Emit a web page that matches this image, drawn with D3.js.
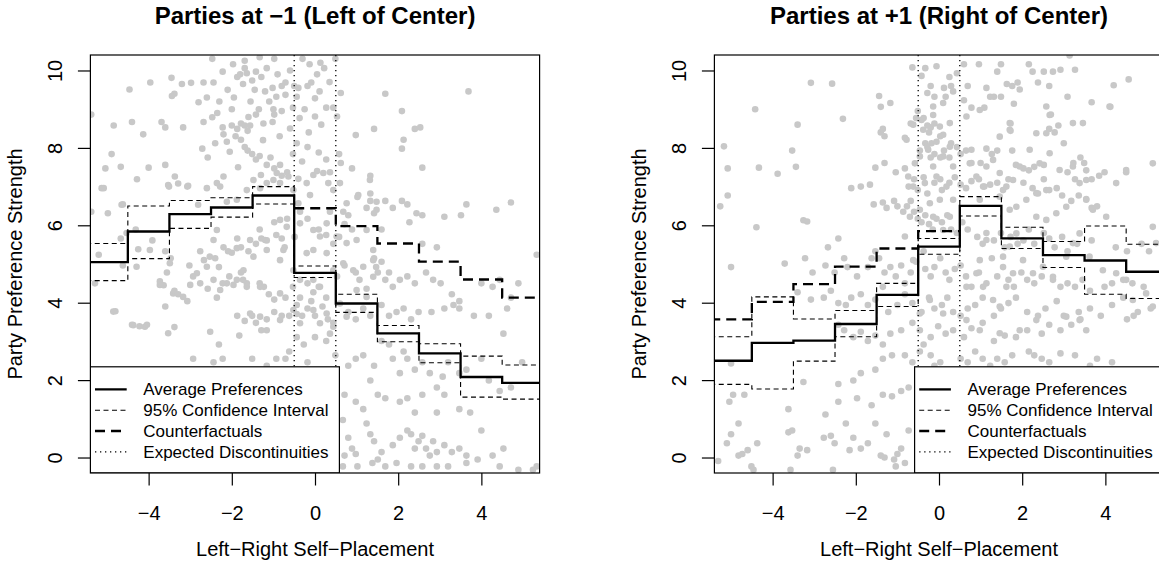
<!DOCTYPE html>
<html>
<head>
<meta charset="utf-8">
<script src="https://cdn.jsdelivr.net/npm/d3@7"></script>
<style>
  html, body { margin: 0; padding: 0; background: #ffffff; }
  svg { display: block; }
  text { font-family: "Liberation Sans", Arial, Helvetica, sans-serif; fill: #000; }
</style>
</head>
<body>
<svg id="chart" width="1159" height="563"></svg>
<script>
// ---------------- DATA ----------------
const bins = [-5, -4, -3, -2, -1, 0, 1, 2, 3, 4, 5];
const xTicks = [-4, -2, 0, 2, 4];
const yTicks = [0, 2, 4, 6, 8, 10];
const panelTitles = ["Parties at \u22121 (Left of Center)", "Parties at +1 (Right of Center)"];
const xAxisTitle = "Left\u2212Right Self\u2212Placement";
const yAxisTitle = "Party Preference Strength";
const legendLabels = ["Average Preferences", "95% Confidence Interval", "Counterfactuals", "Expected Discontinuities"];
const discontinuities = [-0.5, 0.5];

// Left panel (parties at -1)
const leftAvg     = [5.05, 5.84, 6.29, 6.46, 6.77, 4.77, 3.98, 3.21, 2.69, 2.08, 1.93];
const leftUpper   = [5.53, 6.50, 6.64, 6.71, 7.00, 4.95, 4.22, 3.41, 2.94, 2.62, 2.39];
const leftLower   = [4.57, 5.14, 5.92, 6.21, 6.55, 4.65, 3.75, 2.99, 2.45, 1.56, 1.51];
const leftCounterBins = [0, 1, 2, 3, 4, 5];
const leftCounter = [6.44, 5.98, 5.53, 5.06, 4.60, 4.13];

// Right panel (parties at +1)
const rightAvg     = [2.50, 2.96, 3.02, 3.45, 4.20, 5.45, 6.50, 5.66, 5.23, 5.09, 4.80];
const rightUpper   = [3.12, 4.15, 3.58, 3.80, 4.50, 5.66, 6.74, 5.95, 5.58, 5.98, 5.51];
const rightLower   = [1.89, 1.77, 2.49, 3.12, 3.90, 5.25, 6.24, 5.40, 4.91, 4.22, 4.11];
const rightCounterBins = [-5, -4, -3, -2, -1, 0];
const rightCounter = [3.57, 4.02, 4.48, 4.93, 5.40, 5.85];

// Respondent scatter (jittered self-placement, preference strength)
const leftPoints = [
[-2.47,10.30],[-1.97,10.16],[-1.69,10.25],[-1.33,10.34],[-0.98,10.30],[-1.69,10.06],[-1.64,9.93],[-1.42,9.97],[-1.29,9.83],[-1.16,10.06],
[-1.87,9.83],[-1.73,9.65],[-1.51,9.74],[-1.2,9.46],[-1.02,9.55],[-0.8,9.6],[-0.71,9.37],[-0.93,9.32],[-0.44,9.32],[-0.4,9.55],
[-0.13,10.16],[0.13,10.2],[0.22,10.06],[-0.18,9.6],[-0.09,9.69],[0,9.28],[0.11,9.46],[0.49,10.3],[0.62,9.42],[-0.71,9.69],
[-3.96,9.69],[-4.46,9.51],[-3.45,9.81],[-3.38,9.4],[-3.44,9.34],[-3.2,9.65],[-2.98,9.68],[-2.8,9.18],[-2.68,9.69],[-2.44,9.69],
[-2.22,9.97],[3.69,9.46],[1.69,9.4],[0.44,9.04],[-5.38,8.86],
[-2.3,9.2],[-2.1,9.5],[-1.95,9.3],[-1.8,9.9],[-1.55,9.2],[-1.45,9.5],[-1.1,9.2],[-0.9,9.9],[-0.6,10.0],[-0.3,10.3],
[-0.25,9.0],[-0.6,8.5],[-0.85,8.3],[-1.25,8.2],[-1.6,8.8],[-2.0,9.0],[-2.35,8.9],[-2.6,9.3],[-1.35,9.0],[-0.15,8.4],
[0.15,8.6],[0.35,9.7],[0.05,9.9],[-0.5,9.6],[-1.0,9.0],[-1.85,7.5],[-2.05,7.9],[-1.3,7.3],[-0.4,7.2],[0.05,7.4],
[-4.84,8.58],[-4.4,8.67],[-4.13,8.35],[-3.69,8.67],[-3.6,8.53],[-3.17,8.53],[-2.68,8.67],[-2.47,8.79],[-2.22,8.53],[-2.2,8.35],
[-2.0,8.58],[-1.87,8.49],[-1.78,8.63],[-1.69,8.58],[-1.62,8.44],[-1.56,8.58],[-1.42,8.86],[-1.24,8.63],[-1.02,8.67],[-0.98,8.86],
[-0.8,8.95],[-0.53,9.04],[-0.37,8.77],[0,8.81],[0.27,9.04],[0.53,8.81],[0.98,8.33],[1.42,8.49],[2.09,8.95],[2.13,8.21],
[2.4,8.49],[2.53,8.53],[2.09,7.98],[-4.89,7.84],[-5.04,7.47],[-4.67,7.51],[-4.28,7.19],[-4.0,7.49],[-3.6,7.56],[-3.51,7.0],
[-3.29,7.08],[-3.07,7.0],[-2.71,7.98],[-2.58,7.75],[-2.4,8.12],[-2.12,8.16],[-1.91,8.3],[-1.78,8.21],[-1.69,8.02],[-1.62,7.93],
[-1.51,7.84],[-1.42,7.7],[-1.33,7.79],[-1.16,7.56],[-1.07,7.75],[-0.98,7.47],[-0.84,7.56],[-0.8,7.28],[-0.67,7.37],[-0.53,7.84],
[-0.44,8.12],[-0.31,7.65],[-0.18,8.02],[0.09,7.88],[0.27,7.7],[0.36,7.37],[0.58,7.84],[0.62,7.61],[0.89,7.47],[1.02,6.73],
[1.33,6.82],[1.33,7.28],[2.58,7.49],
[-5.13,6.96],[-4.65,6.53],[-3.53,7.04],[-3.37,7.26],[-3.05,7.02],[-2.81,6.53],[-2.6,6.96],[-2.36,7.09],[-2.28,7.0],[-2.2,7.26],
[-2.12,6.61],[-1.88,6.66],[-1.64,6.91],[-1.48,7.17],[-1.32,6.96],[-1.16,7.09],[-1.0,7.17],[-0.92,7.35],[-0.84,7.09],[-0.64,7.26],
[-0.52,6.91],[-0.4,6.57],[-0.2,7.09],[-0.12,6.78],[-0.04,7.3],[0.2,7.35],[0.32,7.09],[0.44,6.91],[0.6,7.09],[0.68,6.35],
[0.76,6.57],[1.04,6.78],[1.32,7.17],[1.48,6.61],[1.48,6.4],[-0.84,6.14],[-0.68,5.96],[-0.36,6.05],[-0.04,5.88],[0.12,5.71],
[0.28,6.05],[0.52,5.71],[0.76,5.54],[1.0,5.62],[1.24,5.88],[1.4,5.36],[-2.36,5.88],[-2.44,5.62],[-1.88,5.41],[-1.56,5.62],
[-1.2,5.62],[-1.16,5.36],[-1.48,5.19],[-1.72,4.84],[-1.88,4.59],[-2.12,4.5],[-2.44,4.59],[-2.84,4.76],[-3.0,4.46],[-3.17,4.15],
[-2.6,4.93],[-3.49,5.02],[-3.73,4.46],[-3.97,5.36],[-4.29,4.93],[-4.85,3.77],[-4.37,3.42],[-4.09,3.38],[-3.53,3.21],[-3.41,4.24],
[-2.52,3.25],[-2.28,4.33],[-1.96,4.46],[-1.64,4.5],[-1.56,3.72],[-1.32,3.64],[-1.16,3.29],[-0.84,3.55],[-0.52,3.81],[-0.36,3.47],
[-0.04,3.81],[0.12,3.47],[0.28,3.72],[0.44,3.38],[0.6,3.98],[0.76,3.64],[1.0,4.33],[1.24,4.15],[1.4,4.67],[-0.04,4.59],
[0.12,4.41],[-0.36,4.59],[-0.52,4.84],[-0.84,5.1],[-0.76,5.36],[-0.2,5.28],[-0.04,5.36],[0.28,5.28],[0.44,4.84],[0.68,5.02],
[0.92,4.84],[1.16,4.93],[1.4,5.1],[-1.32,4.41],[-0.84,4.24],
[-5.38,6.35],[-5.08,6.96],[-4.98,6.31],[-5.2,5.24],[-5.29,4.5],[-4.67,5.66],[-4.62,4.96],[-4.62,6.54],[-4.53,5.8],[-4.31,5.89],
[-4.25,5.38],[-3.91,5.61],[-3.6,5.33],[-3.47,5.15],[-3.56,4.78],[-3.73,4.55],[-3.64,4.45],[-3.6,3.9],[-3.38,4.31],[-3.02,4.96],
[-2.93,4.68],[-2.76,5.33],[-2.67,5.1],[-2.53,5.19],[-2.4,5.15],[-2.31,4.92],[-2.2,5.43],[-2.09,5.33],[-2.0,5.29],[-1.87,5.66],
[-1.78,5.43],[-1.6,5.33],[-1.42,5.52],[-1.33,5.89],[-1.29,5.66],[-1.16,5.61],[-0.98,6.08],[-0.93,5.75],[-0.8,5.66],[-0.73,5.43],
[-0.67,6.17],[-0.36,6.35],[-0.49,5.7],[-0.18,6.17],[0.09,5.89],[0.27,5.75],[0.36,6.35],[0.44,5.52],[0.58,5.7],[0.71,6.03],
[0.8,6.26],[0.89,5.89],[1.24,6.45],[1.33,6.63],[1.42,6.31],[1.6,5.89],[1.69,6.63],[1.87,6.45],[2.09,6.63],[2.22,6.54],
[2.27,6.08],[2.44,6.31],[2.58,6.26],[2.58,5.52],[2.93,5.43],[3.11,6.22],[3.51,6.26],[3.64,6.54],[4.36,6.4],[4.71,6.59],
[5.33,5.24],[-3.29,4.22],[-3.07,4.04],[-2.76,4.5],[-2.58,4.36],[-2.36,4.13],[-2.22,4.5],[-2.06,4.68],[-1.78,4.78],[-1.73,4.59],
[-1.64,4.41],[-1.33,4.5],[-1.23,4.41],[-1.11,4.22],[-0.98,4.08],[-0.71,4.13],[-0.53,4.41],[-0.44,3.94],[-0.36,4.13],[-0.18,4.5],
[-0.09,4.04],[-0.04,4.27],[0.09,4.41],[0.27,4.13],[0.53,4.68],[0.71,4.96],[0.98,4.78],[1.07,4.59],[1.24,4.36],[1.42,5.15],
[1.47,4.92],[1.51,4.78],[1.6,5.06],[1.69,4.59],[1.78,4.78],[1.87,4.41],[2.04,4.59],[2.22,4.68],[2.4,4.5],[2.67,4.78],
[2.84,4.59],[3.02,4.5],[3.29,4.22],[3.47,4.04],[4.0,4.5],[4.27,4.41],[4.44,4.59],[4.71,4.13],[4.89,4.5],
[-4.8,3.78],[-4.4,3.43],[-4.22,3.39],[-4.04,3.43],[-3.38,3.37],[-2.31,2.92],[-1.87,3.66],[-1.69,3.53],[-1.51,3.66],[-1.42,3.48],
[-1.29,3.29],[-1.16,3.57],[-0.98,3.76],[-0.8,3.66],[-0.62,3.66],[-0.44,3.71],[-0.31,3.66],[-0.18,3.85],[0,3.66],[0.18,3.9],
[0.31,3.57],[0.44,3.48],[0.8,3.76],[0.98,3.57],[1.16,3.85],[1.33,3.66],[1.6,3.94],[1.78,3.66],[1.96,3.76],[2.13,3.85],
[2.31,3.57],[2.49,3.76],[2.8,3.76],[3.11,3.85],[3.33,3.94],[3.47,3.85],[3.82,3.66],[4.18,3.66],[4.62,3.85],[4.53,3.2],
[-2.93,2.55],[-2.44,2.46],[-2.22,2.55],[-1.82,3.15],[-1.51,2.55],[-1.16,2.37],[-0.93,2.55],[-0.71,2.55],[-0.62,2.74],[-0.44,3.11],
[-0.27,2.92],[-0.18,2.46],[0,3.11],[0.27,3.01],[0.36,3.2],[0.49,2.64],[0.8,2.37],[0.98,2.55],[1.16,2.64],[1.33,1.99],
[1.42,2.37],[1.6,3.01],[1.78,2.92],[1.87,2.55],[2.04,2.18],[2.13,2.74],[2.22,2.55],[2.4,2.27],[2.58,2.46],[2.76,2.18],
[2.93,1.81],[3.07,2.09],[3.2,2.46],[3.47,2.18],[3.64,2.27],[4.0,2.55],[4.18,1.99],[4.44,1.72],[4.71,1.81],[4.98,2.46],
[0.71,1.62],[0.98,1.44],[1.16,1.25],[1.51,1.62],[1.69,1.53],[2.04,1.44],[2.22,1.53],[2.4,1.16],[2.58,1.62],[2.93,1.16],
[3.11,1.62],[3.47,1.25],[3.73,1.16],[4.0,0.7],
[0.67,0.97],[0.8,0.51],[0.89,0.23],[0.98,0.09],[1.24,0.88],[1.33,0.6],[1.42,0.42],[1.51,-0.05],[1.69,-0.23],[1.87,0.32],
[1.96,-0.14],[2.04,0.51],[2.22,0.7],[2.31,0.6],[2.4,0.23],[2.49,0.42],[2.58,0.56],[2.67,0.23],[2.76,0.05],[2.84,0.42],
[2.93,0.14],[3.11,0.32],[3.29,0.14],[3.47,0.23],[3.64,0.05],[3.91,-0.05],[4.27,0.05],[4.44,-0.23],[4.53,0.23],[4.89,-0.32],
[5.24,-0.32],[5.33,-0.23],[2.31,-0.23],[2.58,-0.23],[2.93,-0.23],[3.2,-0.23],[3.64,-0.14],[0.71,0.05],[0.67,-0.23],[1.02,-0.23],
[1.38,-0.14],[1.6,0.14]
];

const rightPoints = [
[-3.08,9.68],[-2.57,9.66],[-1.44,9.34],[-1.4,9.06],[-1.17,9.16],[-0.64,10.08],[-0.42,9.86],[-0.33,10.06],[-0.2,9.6],[-0.06,10.11],
[-0.28,9.42],[-0.11,9.32],[0.12,9.55],[0.25,9.83],[0.29,9.6],[0.34,9.46],[0.16,9.32],[0.43,9.93],[0.6,10.16],[0.69,9.6],
[0.6,9.23],[0.78,9.04],[0.96,10.16],[1.14,9.55],[1.32,9.32],[1.4,9.97],[1.49,10.16],[1.63,9.65],[1.76,9.6],[1.94,9.51],
[1.89,9.69],[2.16,10.16],[2.25,9.97],[2.38,9.69],[2.52,9.97],[2.65,9.6],[2.74,9.97],[2.92,10.02],[3.09,9.32],[3.27,10.02],
[3.14,10.39],[3.67,9.18],[4.12,9.06],[4.2,9.62],[4.56,9.77],[1.8,9.14],[1.49,9.32],[1.23,9.32],[1.09,9.04],
[-0.62,8.6],[-0.42,8.72],[-0.38,8.47],[-0.14,8.85],[0.02,8.55],[0.1,8.34],[0.26,8.64],[-0.18,8.12],[-0.26,7.95],[-0.46,7.78],
[-0.58,7.6],[-0.74,7.26],[-0.62,7.0],[-0.34,7.09],[-0.14,7.52],[-0.06,7.26],[0.1,7.78],[0.26,8.03],[0.34,7.52],[0.18,7.0],
[0.02,6.66],[-0.22,6.57],[-0.46,6.4],[-0.7,6.22],[-0.82,5.71],[-0.62,5.1],[-0.14,6.22],[0.26,6.22],[0.1,5.88],[0.34,6.66],
[0.66,8.81],[0.78,7.95],[0.74,7.6],[0.9,7.26],[1.06,7.0],[0.98,6.66],[1.14,7.52],[1.3,7.69],[1.46,7.35],[1.62,7.0],
[1.78,7.17],[1.46,6.74],[1.7,6.4],[1.86,6.48],[2.1,6.66],[2.34,6.83],[2.58,6.91],[1.94,7.52],[2.18,7.95],[2.42,7.6],
[2.66,7.86],[2.9,7.43],[3.22,7.52],[3.38,7.09],[3.54,7.17],[3.54,6.66],[3.7,6.4],[3.06,6.48],[2.82,6.31],[2.58,6.14],
[2.34,6.22],[1.86,5.79],[1.7,5.45],[1.54,5.19],[1.14,5.62],[0.98,5.1],[0.9,4.76],[0.66,4.41],[1.06,4.41],[1.3,4.07],
[1.46,3.9],[1.62,4.41],[1.78,4.76],[2.02,5.1],[2.26,4.76],[2.5,4.93],[2.74,4.67],[3.06,5.19],[3.22,5.54],[3.38,5.79],
[3.62,5.19],[3.94,4.84],[4.26,4.76],[4.5,4.59],[4.66,4.07],[4.98,4.24],[5.14,3.9],[5.22,5.54],[5.14,5.96],[4.02,6.22],
[4.26,7.09],[4.5,7.43],[5.14,7.6],[-0.14,9.07],[0.1,9.16],[0.98,8.98],[1.7,8.64],[2.58,9.07],[3.22,8.64],[3.46,8.64],
[4.1,9.07],[1.46,8.29],[1.7,8.47],[2.34,8.38],[2.58,8.38],[2.66,8.85],[-0.78,8.21],[-0.46,3.72],[-0.22,4.07],[0.1,3.72],
[0.66,3.55],[0.98,3.29],[1.46,3.21],[1.94,3.29],[2.34,3.55],[3.06,3.64],[3.38,3.55],[3.54,3.29],
[-4.42,9.0],[-3.4,8.6],[-2.31,8.75],[-5.17,8.04],[-5.08,7.47],[-4.33,7.49],[-3.88,7.33],[-3.44,7.51],[-3.53,7.93],[-1.53,7.49],
[-1.31,7.61],[-1.4,8.4],[-1.35,8.49],[-1.31,8.3],[-0.82,8.26],[-0.68,8.63],[-0.55,8.77],[-0.51,8.95],[-0.37,8.77],[-0.28,8.58],
[-0.2,8.53],[-0.11,8.63],[-0.24,8.4],[-0.06,8.16],[0.03,8.3],[-0.33,8.12],[-0.28,8.02],[-0.46,7.93],[-0.2,7.75],[-0.11,7.84],
[0.03,7.75],[0.12,7.93],[0.25,7.75],[0.29,8.12],[0.43,8.02],[0.52,7.84],[0.65,7.93],[0.78,7.61],[1.0,7.61],[1.14,7.98],
[1.27,7.84],[1.4,7.93],[1.72,8.63],[1.72,8.44],[1.76,7.93],[1.85,7.56],[2.03,7.47],[2.16,7.42],[2.29,7.51],[2.52,7.56],
[2.69,8.86],[2.65,8.49],[2.78,8.4],[2.87,8.58],[3.0,8.12],[3.09,7.37],[3.23,7.61],[3.27,7.19],[3.4,7.75],[3.49,7.61],
[3.54,7.42],[3.67,7.19],[3.85,7.28],[3.98,7.37],[4.5,7.37],
[-1.04,7.37],[-0.82,7.47],[-0.73,7.0],[-0.6,7.19],[-0.51,6.91],[-0.37,7.24],[-0.28,6.82],[-0.11,7.1],[0.03,7.19],[0.07,6.91],
[0.25,7.1],[0.38,7.24],[0.52,7.05],[0.65,6.96],[0.78,7.14],[0.96,7.19],[1.09,7.0],[1.23,7.05],[1.4,7.1],[1.54,6.91],
[1.67,7.19],[2.03,7.1],[2.25,6.96],[2.38,6.82],[2.52,7.19],[2.65,6.91],[2.83,6.96],[2.96,6.77],[3.18,6.63],[3.36,6.77],
[3.54,6.68],[3.67,6.45],[3.8,6.49],
[-5.26,6.49],[-5.08,6.77],[-4.39,5.95],[-3.26,6.13],[-3.17,6.1],[-2.67,5.43],[-2.42,5.66],[-2.11,6.96],[-1.88,7.0],[-1.66,7.05],
[-1.57,6.54],[-1.35,6.59],[-1.26,6.45],[-1.08,6.63],[-1.0,6.49],[-0.86,6.35],[-0.77,6.49],[-0.68,6.63],[-0.6,6.35],[-0.51,6.17],
[-0.42,6.08],[-0.33,6.26],[-0.24,6.03],[-0.15,5.89],[-0.06,6.17],[0.07,6.08],[0.2,6.26],[0.29,5.89],[0.43,5.8],[0.56,6.08],
[0.69,5.89],[0.92,5.7],[1.05,5.52],[1.14,5.8],[1.32,5.61],[1.49,5.8],[1.58,5.43],[1.72,5.7],[1.89,5.52],[2.03,5.61],
[2.16,5.89],[2.29,5.52],[2.52,5.8],[2.65,5.66],[2.78,5.43],[2.96,5.7],[3.09,5.33],[3.32,5.52],[3.67,5.61],[4.25,5.43],
[4.52,5.33],[4.87,5.52],[5.05,5.33],
[-5.0,4.92],[-3.71,5.01],[-3.22,5.15],[-3.04,4.78],[-2.73,4.96],[-2.51,4.78],[-2.28,5.15],[-2.2,4.92],[-1.97,4.68],[-1.71,4.92],
[-1.62,5.15],[-1.53,5.33],[-1.44,5.15],[-1.31,4.78],[-1.17,4.92],[-1.04,4.68],[-0.91,4.96],[-0.82,4.5],[-0.68,4.78],[-0.55,5.06],
[-0.37,5.33],[-0.33,4.87],[-0.2,4.68],[-0.11,4.92],[0.03,5.15],[0.16,4.78],[0.25,4.59],[0.38,4.87],[0.52,4.96],[0.65,4.68],
[0.78,4.41],[0.96,4.78],[1.14,4.5],[1.27,5.15],[1.4,4.68],[1.54,4.92],[1.67,4.59],[1.8,4.41],[1.98,4.78],[2.12,4.59],
[2.29,4.5],[2.47,4.68],[2.74,4.59],[2.92,4.41],[3.09,4.5],[3.27,4.41],[3.45,4.59],[3.63,4.31],[3.98,4.41],[4.16,4.5],
[4.43,4.59],[4.65,4.5],[4.92,4.41],
[-3.4,4.27],[-3.08,4.08],[-2.77,4.13],[-2.6,4.31],[-2.42,3.99],[-2.24,3.94],[-2.11,4.13],[-1.88,4.22],[-1.71,3.94],[-1.53,4.08],
[-1.35,4.41],[-1.22,3.76],[-1.0,3.94],[-0.82,4.22],[-0.64,3.99],[-0.42,3.76],[-0.24,4.13],[-0.11,3.85],[0.07,3.94],[0.2,4.13],
[0.34,3.76],[0.52,3.66],[0.69,3.85],[0.87,3.94],[1.05,4.13],[1.32,3.66],[1.49,3.85],[1.67,3.99],[1.85,4.13],[2.12,3.76],
[2.38,3.66],[2.56,3.85],[2.83,4.04],[3.0,3.66],[3.36,3.76],[3.63,3.85],[3.89,3.66],[4.16,3.94],[4.43,4.13],[4.78,3.76],
[5.09,3.85],
[-5.0,2.43],[-3.26,1.95],[-3.62,1.25],[-2.73,1.11],[-2.42,1.9],[-2.06,1.99],[-1.88,2.18],[-1.62,1.35],[-1.53,2.27],[-1.35,2.55],
[-1.13,2.64],[-0.82,2.64],[-0.64,2.46],[-0.46,2.74],[-0.37,2.92],[-0.2,2.64],[-0.11,2.37],[0.03,2.46],[0.52,2.55],[0.69,2.46],
[0.87,2.74],[1.05,2.55],[1.23,2.37],[1.4,2.55],[1.58,2.46],[1.76,2.64],[2.16,2.74],[2.29,2.64],[2.47,2.55],[2.65,2.46],
[2.92,2.69],[3.27,2.64],[3.63,2.37],[3.8,2.55],[4.16,2.46],
[-2.42,3.43],[-2.28,3.29],[-2.06,3.11],[-1.88,3.25],[-1.71,3.01],[-1.53,3.15],[-1.35,2.92],[-1.17,3.2],[-0.91,3.29],[-0.64,3.48],
[-0.46,3.29],[-0.2,3.11],[-0.02,3.39],[0.16,3.2],[0.34,3.29],[0.6,3.11],[0.78,3.34],[1.05,3.48],[1.32,3.01],[1.58,3.15],
[1.85,3.11],[2.12,3.29],[2.47,3.2],[2.65,3.43],[2.92,3.29],[3.18,3.43],[3.4,3.57],[4.52,3.57],[4.68,3.66],
[-5.31,-0.09],[-5.1,0.37],[-5.0,0.6],[-5.04,1.44],[-4.95,1.62],[-4.68,1.62],[-4.82,0.88],[-4.82,0.05],[-4.73,0.09],[-4.6,0.19],
[-4.51,-0.23],[-4.46,-0.32],[-4.37,0.37],[-3.62,0.65],[-3.53,0.7],[-3.35,0.23],[-3.17,0.19],[-3.57,-0.32],[-3.4,0.05],
[-2.77,0.51],[-2.6,0.56],[-2.55,-0.32],[-2.51,0.37],[-2.42,1.44],[-2.24,0.88],[-2.15,0.19],[-2.06,0.51],[-1.88,0.23],[-1.71,0.37],
[-1.53,0.88],[-1.4,0.05],[-1.26,0.6],[-1.08,-0.05],[-1.0,0.09],[-0.91,0.23],[-0.82,-0.14],[-0.73,0.7],[-1.04,-0.23],[-1.31,0.0],
[-1.97,1.53],[-1.35,1.62],[-1.13,1.58],[-0.91,1.72],[-0.73,1.81]
];

// ---------------- DRAWING ----------------
const svg = d3.select("#chart");
svg.append("rect").attr("width", 1159).attr("height", 563).attr("fill", "#ffffff");

const panels = [
  { offset: 0,   title: panelTitles[0], avg: leftAvg,  upper: leftUpper,  lower: leftLower,
    cBins: leftCounterBins,  counter: leftCounter,  points: leftPoints,  legendSide: "left" },
  { offset: 624, title: panelTitles[1], avg: rightAvg, upper: rightUpper, lower: rightLower,
    cBins: rightCounterBins, counter: rightCounter, points: rightPoints, legendSide: "right" }
];

const styles = {
  avg:     { width: 2.3, dash: null },
  ci:      { width: 1.1, dash: "5,3.5" },
  counter: { width: 2.3, dash: "10,6" },
  disc:    { width: 1.3, dash: "1.3,3.7" }
};

panels.forEach((p, i) => {
  const L = 90.4 + p.offset, R = 539.6 + p.offset, T = 55, B = 473;
  const x = d3.scaleLinear().domain([-5.4, 5.4]).range([L, R]);
  const y = d3.scaleLinear().domain([-0.4, 10.4]).range([B, T]);
  const g = svg.append("g");

  const clipId = "clip" + i;
  g.append("clipPath").attr("id", clipId)
    .append("rect").attr("x", L).attr("y", T).attr("width", R - L).attr("height", B - T);
  const plot = g.append("g").attr("clip-path", `url(#${clipId})`);

  // scatter
  plot.append("g").selectAll("circle").data(p.points).join("circle")
    .attr("cx", d => x(d[0])).attr("cy", d => y(d[1])).attr("r", 3.3)
    .attr("fill", "#c8c8c8");

  // step lines
  const stepLine = d3.line().x(d => x(d[0])).y(d => y(d[1])).curve(d3.curveStepAfter);
  const stepPts = (bs, vals) => {
    const pts = bs.map((b, k) => [b - 0.5, vals[k]]);
    pts.push([bs[bs.length - 1] + 0.5, vals[vals.length - 1]]);
    return pts;
  };
  const drawStep = (bs, vals, st) => {
    plot.append("path").attr("d", stepLine(stepPts(bs, vals)))
      .attr("fill", "none").attr("stroke", "#000").attr("stroke-width", st.width)
      .attr("stroke-dasharray", st.dash).attr("stroke-linejoin", "miter").attr("stroke-linecap", "butt");
  };
  drawStep(bins, p.upper, styles.ci);
  drawStep(bins, p.lower, styles.ci);
  drawStep(p.cBins, p.counter, styles.counter);
  drawStep(bins, p.avg, styles.avg);

  // expected discontinuities
  plot.selectAll("line.disc").data(discontinuities).join("line").attr("class", "disc")
    .attr("x1", d => x(d)).attr("x2", d => x(d)).attr("y1", T).attr("y2", B)
    .attr("stroke", "#000").attr("stroke-width", styles.disc.width).attr("stroke-dasharray", styles.disc.dash);

  // legend
  const lw = 249, lh = B - 366.8;
  const lx = p.legendSide === "left" ? L : R - lw;
  const ly = 366.8;
  const leg = plot.append("g");
  leg.append("rect").attr("x", lx).attr("y", ly).attr("width", lw).attr("height", lh)
    .attr("fill", "#fff").attr("stroke", "#000").attr("stroke-width", 1.2);
  const legStyles = [styles.avg, styles.ci, styles.counter, styles.disc];
  legendLabels.forEach((lab, k) => {
    const ry = ly + 22.6 + k * 20.8;
    leg.append("line").attr("x1", lx + 4.6).attr("x2", lx + 36.3).attr("y1", ry).attr("y2", ry)
      .attr("stroke", "#000").attr("stroke-width", legStyles[k].width)
      .attr("stroke-dasharray", legStyles[k].dash);
    leg.append("text").attr("x", lx + 52.9).attr("y", ry + 6).attr("font-size", 17).text(lab);
  });

  // box
  g.append("rect").attr("x", L).attr("y", T).attr("width", R - L).attr("height", B - T)
    .attr("fill", "none").attr("stroke", "#000").attr("stroke-width", 1.2);

  // x axis
  const xAxis = d3.axisBottom(x).tickValues(xTicks).tickSize(12.5).tickPadding(0)
    .tickFormat(d => d < 0 ? "\u2212" + Math.abs(d) : String(d));
  const gx = g.append("g").attr("transform", `translate(0,${B})`).call(xAxis);
  gx.select(".domain").remove();
  gx.selectAll(".tick line").attr("stroke", "#000").attr("stroke-width", 1.2);
  gx.selectAll(".tick text").attr("font-size", 20).attr("dy", null).attr("y", 47)
    .attr("font-family", "Liberation Sans, Arial, sans-serif").attr("fill", "#000");

  // y axis
  const yAxis = d3.axisLeft(y).tickValues(yTicks).tickSize(12.5).tickPadding(0);
  const gy = g.append("g").attr("transform", `translate(${L},0)`).call(yAxis);
  gy.select(".domain").remove();
  gy.selectAll(".tick line").attr("stroke", "#000").attr("stroke-width", 1.2);
  gy.selectAll(".tick text").attr("font-size", 20).attr("x", null).attr("dy", null)
    .attr("text-anchor", "middle").attr("transform", `translate(${62 - 90.4},0) rotate(-90)`)
    .attr("font-family", "Liberation Sans, Arial, sans-serif").attr("fill", "#000");

  // titles
  g.append("text").attr("x", (L + R) / 2).attr("y", 24).attr("text-anchor", "middle")
    .attr("font-size", 24).attr("font-weight", "bold").text(p.title);
  g.append("text").attr("x", (L + R) / 2).attr("y", 556).attr("text-anchor", "middle")
    .attr("font-size", 20).text(xAxisTitle);
  g.append("text").attr("transform", `translate(${22 + p.offset},${(T + B) / 2}) rotate(-90)`)
    .attr("text-anchor", "middle").attr("font-size", 20).text(yAxisTitle);
});
</script>
</body>
</html>
